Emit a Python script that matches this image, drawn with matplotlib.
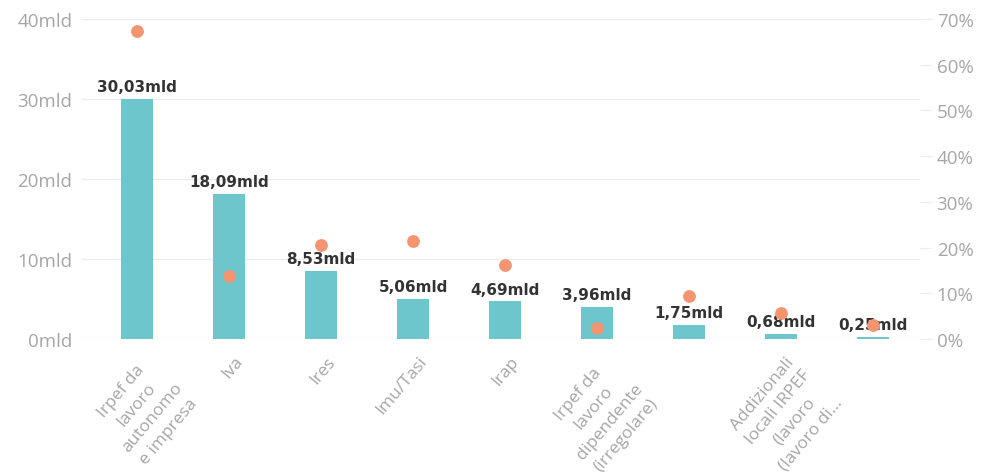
import matplotlib
matplotlib.use("Agg")
import matplotlib.pyplot as plt
from matplotlib.ticker import FuncFormatter, MultipleLocator
from matplotlib.transforms import ScaledTranslation

# Data
categories = [
    "Irpef da\nlavoro\nautonomo\ne impresa",
    "Iva",
    "Ires",
    "Imu/Tasi",
    "Irap",
    "Irpef da\nlavoro\ndipendente\n(irregolare)",
    "",
    "Addizionali\nlocali IRPEF\n(lavoro\n(lavoro di...",
    "",
]
value_labels = ["30,03mld", "18,09mld", "8,53mld", "5,06mld", "4,69mld",
                "3,96mld", "1,75mld", "0,68mld", "0,25mld"]
gap_mld = [30.03, 18.09, 8.53, 5.06, 4.69, 3.96, 1.75, 0.68, 0.25]
gap_pct = [67.4, 13.8, 20.6, 21.4, 16.2, 2.4, 9.4, 5.7, 3.1]

BAR = "#6ec6cd"
DOT = "#f29570"
TICK = "#a6a6a6"
GRID = "#ececec"

plt.rcParams["font.family"] = ["Open Sans", "DejaVu Sans"]

W, H = 982, 477
fig = plt.figure(figsize=(W / 100, H / 100), dpi=100)
ax = fig.add_axes([82 / W, 1 - 340 / H, (920 - 82) / W, (340 - 20) / H])

x = list(range(len(gap_mld)))
ax.bar(x, gap_mld, width=0.34, color=BAR, zorder=2)
for xi, v, lab in zip(x, gap_mld, value_labels):
    ax.annotate(lab, (xi, v), xytext=(0, 3.5), textcoords="offset points",
                ha="center", va="bottom", fontsize=11, fontweight="bold",
                color="#333333", fontfamily="DejaVu Sans", zorder=5)

ax.set_xlim(-0.598, 8.511)
ax.set_ylim(0, 40)
ax.yaxis.set_major_locator(MultipleLocator(10))
ax.yaxis.set_major_formatter(FuncFormatter(lambda v, p: f"{int(v)}mld"))
ax.grid(axis="y", color=GRID, linewidth=1, zorder=0)
ax.tick_params(axis="y", length=0, pad=7, labelsize=13.5, labelcolor=TICK)
ax.set_xticks(x)
ax.set_xticklabels(categories, rotation=50, ha="right", va="top",
                   rotation_mode="anchor", multialignment="center",
                   fontsize=12.5, color=TICK, linespacing=1.4)
ax.tick_params(axis="x", length=0, pad=0)
shift = ScaledTranslation(5 / 100, -14 / 100, fig.dpi_scale_trans)
for lbl in ax.get_xticklabels():
    lbl.set_transform(lbl.get_transform() + shift)
for s in ax.spines.values():
    s.set_visible(False)

ax2 = ax.twinx()
ax2.scatter(x, gap_pct, s=85, color=DOT, zorder=4, linewidths=0)
ax2.set_ylim(0, 70)
ax2.yaxis.set_major_locator(MultipleLocator(10))
ax2.yaxis.set_major_formatter(FuncFormatter(lambda v, p: f"{int(v)}%"))
ax2.tick_params(axis="y", length=8, width=0.8, color=GRID, pad=4,
                labelsize=13.5, labelcolor=TICK)
for s in ax2.spines.values():
    s.set_visible(False)

fig.savefig("out.png", dpi=100, facecolor="white")
